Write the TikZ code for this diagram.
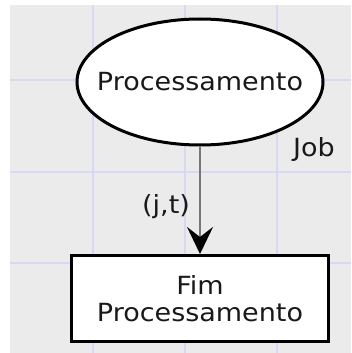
\documentclass[tikz,border=0pt]{standalone}
\usepackage{fontspec}
\setmainfont{DejaVu Sans}[FakeStretch=1.08]
\usetikzlibrary{shapes.geometric,arrows.meta}
\definecolor{paper}{HTML}{EBEBEB}
\definecolor{gridline}{HTML}{D8D8F4}
\definecolor{arcgray}{HTML}{777777}

\tikzset{
  place/.style={ellipse, draw=black, fill=white, line width=3pt,
    minimum width=246pt, minimum height=126pt, inner sep=0pt},
  trans/.style={rectangle, draw=black, fill=white, line width=3pt,
    minimum width=257pt, minimum height=86pt, align=center},
  lbl/.style={text=black!90, inner sep=0pt},
  flow/.style={draw=arcgray, line width=2.5pt,
    -{Stealth[length=27pt,width=26pt,inset=10pt,color=black,fill=black]}}
}

\begin{document}
\begin{tikzpicture}[x=1pt,y=-1pt,font=\fontsize{25}{27}\selectfont,
		text=black!90]
		%%%%% BACKGROUND %%%%%
		\useasboundingbox (0,0) rectangle (351,353);
		\fill[paper] (10,5) rectangle (351,353);
		\foreach \gx in {93,185,277}
			\draw[gridline, line width=2.5pt] (\gx,5) -- (\gx,353);
		\foreach \gy in {80,172,263}
			\draw[gridline, line width=2.5pt] (10,\gy) -- (351,\gy);
		
		%%%%% NET %%%%%
		\node[place] (proc) at (200,82) {\makebox[0pt]{Processamento}};
		\node[trans] (fim) at (200,298.5) {Fim\\Processamento};
		\node[lbl] (job) at (314,150) {Job};
		
		\draw[flow] (proc) -- (fim);
		\node[lbl] (jt) at (166,207) {(j,t)};
		%%%%% END %%%%%
	\end{tikzpicture}
\end{document}
